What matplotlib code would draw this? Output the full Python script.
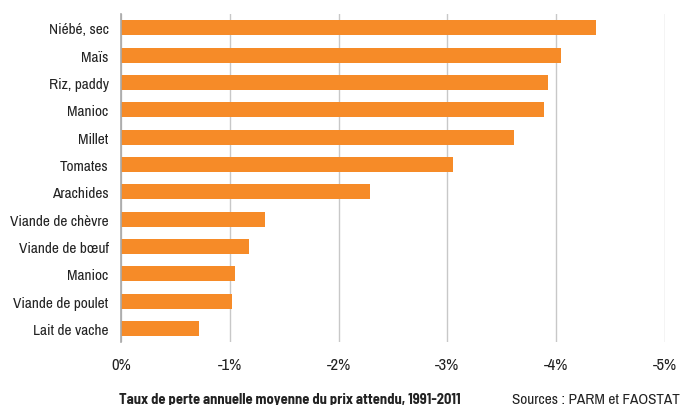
import matplotlib.pyplot as plt

products = ['Niébé, sec', 'Maïs', 'Riz, paddy', 'Manioc', 'Millet', 'Tomates',
            'Arachides', 'Viande de chèvre', 'Viande de bœuf', 'Manioc',
            'Viande de poulet', 'Lait de vache']
loss_rates = [-4.37, -4.04, -3.92, -3.89, -3.61, -3.05,
              -2.29, -1.32, -1.18, -1.05, -1.02, -0.72]
ticks = [0, -1, -2, -3, -4, -5]
tick_labels = ['0%', '-1%', '-2%', '-3%', '-4%', '-5%']

# narrow sans first, plain sans if it is missing
plt.rcParams['font.family'] = ['Archivo Narrow', 'Liberation Sans', 'DejaVu Sans']
BOLD_FONT = ['Barlow Semi Condensed', 'Liberation Sans', 'DejaVu Sans']

fig = plt.figure(figsize=(6.8, 4.06), dpi=100)
ax = fig.add_axes([0.178, 0.155, 0.8, 0.808])

positions = list(range(len(products)))
ax.barh(positions, loss_rates, height=0.55, color='#F68B28', zorder=3)

ax.set_ylim(len(products) - 0.5, -0.5)
ax.set_xlim(0, -5)
ax.set_yticks(positions)
ax.set_yticklabels(products, fontsize=11, color='#222222')
ax.set_xticks(ticks)
ax.set_xticklabels(tick_labels, fontsize=12, color='#222222')
ax.tick_params(length=0)
ax.tick_params(axis='y', pad=9)
ax.tick_params(axis='x', pad=11)

ax.grid(axis='x', color='#C8C8C8', linewidth=1, zorder=0)
for side in ['top', 'right', 'bottom']:
    ax.spines[side].set_visible(False)
ax.spines['left'].set_color('#A8A8A8')
ax.spines['left'].set_linewidth(1.2)
ax.spines['left'].set_zorder(4)

# footer sits on the bottom edge, descenders run off the canvas
fig.text(0.426, 0.004, 'Taux de perte annuelle moyenne du prix attendu, 1991-2011',
         ha='center', va='baseline', fontsize=10.5, fontweight='bold',
         family=BOLD_FONT, color='#222222')
fig.text(0.999, 0.004, 'Sources : PARM et FAOSTAT',
         ha='right', va='baseline', fontsize=11, color='#222222')

fig.savefig('out.png', dpi=100)
